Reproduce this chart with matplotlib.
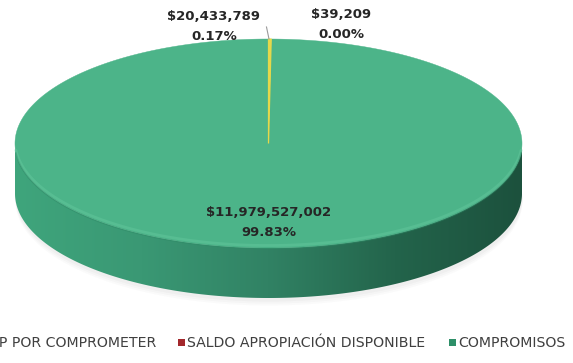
import numpy as np
import matplotlib
matplotlib.use("Agg")
import matplotlib.pyplot as plt
from matplotlib.patches import Polygon, Rectangle
from matplotlib.colors import LinearSegmentedColormap

categories = ["APROP POR COMPROMETER", "SALDO APROPIACIÓN DISPONIBLE", "COMPROMISOS"]
values = [20433789, 39209, 11979527002]
top_colors = ["#E6D84A", "#A3282C", "#4CB489"]
legend_colors = ["#E6D84A", "#A3282C", "#2E8F68"]

W, H = 573, 363
fig = plt.figure(figsize=(W / 100, H / 100), dpi=100)
ax = fig.add_axes([0, 0, 1, 1])
ax.set_xlim(0, W)
ax.set_ylim(H, 0)
ax.axis("off")

# ellipse geometry of the 3-D disc (pixel units)
cx, cy, a, b, depth = 268.5, 143.5, 253.5, 104.5, 50.0


def rim(theta_deg):
    t = np.radians(theta_deg)
    return cx + a * np.cos(t), cy - b * np.sin(t)


total = float(sum(values))
fracs = [v / total for v in values]

# soft shadow under the disc
for k, alpha in enumerate([0.05, 0.04, 0.03]):
    th = np.linspace(180, 360, 200)
    x, y = rim(th)
    ax.fill_between(x, y + depth - 2, y + depth + 3 + 2 * k, color="#7a7a7a",
                    alpha=alpha, lw=0, zorder=0)

# front side wall with left-to-right shading
th = np.linspace(180, 360, 400)
xt, yt = rim(th)
side_xy = np.vstack([np.column_stack([xt, yt]),
                     np.column_stack([xt[::-1], yt[::-1] + depth])])
side = Polygon(side_xy, closed=True, facecolor="none", edgecolor="none", zorder=2)
ax.add_patch(side)
side_cmap = LinearSegmentedColormap.from_list(
    "side", ["#3FA57C", "#3A9874", "#318264", "#23644B", "#1C513D"])
grad = np.linspace(0, 1, 256).reshape(1, -1)
im = ax.imshow(grad, cmap=side_cmap, extent=(cx - a, cx + a, cy + b + depth, cy - 5),
               aspect="auto", zorder=2, interpolation="bilinear")
im.set_clip_path(side)

# top face wedges, starting at 12 o'clock and going clockwise
start = 90.0
wedge_z = [4.2, 4.0, 3.0]
wedge_lw = [0.9, 0.0, 0.3]
for frac, col, z, lw in zip(fracs, top_colors, wedge_z, wedge_lw):
    end = start - 360.0 * frac
    th = np.linspace(start, end, max(3, int(abs(end - start) * 2)))
    x, y = rim(th)
    pts = np.vstack([[cx, cy], np.column_stack([x, y])])
    ax.add_patch(Polygon(pts, closed=True, facecolor=col,
                         edgecolor=col if lw > 0 else "none", lw=lw, zorder=z))
    start = end

# light bevel along the front edge of the top face
th = np.linspace(185, 355, 300)
x, y = rim(th)
ax.plot(x, y - 2.5, color="#62C69C", lw=2.0, alpha=0.5, zorder=3.5,
        solid_capstyle="round")
ax.plot(x, y + 0.5, color="#2E8A66", lw=1.0, alpha=0.5, zorder=3.5)

# data labels
lab_kw = dict(ha="center", va="center", fontsize=9.5, fontweight="bold",
              color="#262626", family="DejaVu Sans", zorder=6)
label_pos = [(214, 17, 37), (341, 15, 34), (269, 212, 232)]
for v, f, (lx, ly1, ly2) in zip(values, fracs, label_pos):
    ax.text(lx, ly1, f"${v:,.0f}", **lab_kw)
    ax.text(lx, ly2, f"{f * 100:.2f}%", **lab_kw)

# leader line for the thin slice
ax.plot([266.5, 269], [27, 39], color="#9a9a9a", lw=0.8, zorder=5)

# legend row
leg_y = 343
leg_fs = 10.2
ax.text(156, leg_y, categories[0], ha="right", va="center", fontsize=leg_fs,
        color="#404040", family="DejaVu Sans")
legend_x = [178, 449]
for xs, cat, col in zip(legend_x, categories[1:], legend_colors[1:]):
    ax.add_patch(Rectangle((xs, leg_y - 4), 7, 7, facecolor=col, edgecolor="none"))
    ax.text(xs + 9, leg_y, cat, ha="left", va="center", fontsize=leg_fs,
            color="#404040", family="DejaVu Sans")

fig.savefig("out.png", dpi=100, facecolor="white")
